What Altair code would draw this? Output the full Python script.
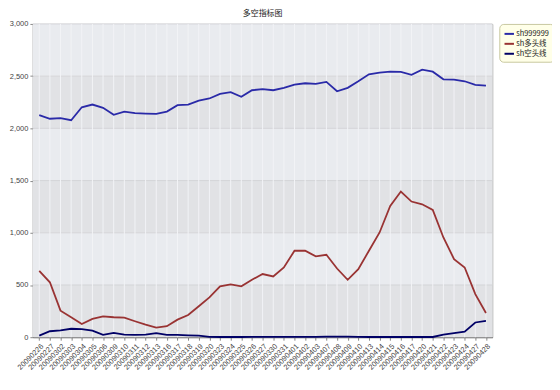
import altair as alt
import pandas as pd

dates = ["20090226", "20090227", "20090302", "20090303", "20090304", "20090305", "20090306",
         "20090309", "20090310", "20090311", "20090312", "20090313",
         "20090316", "20090317", "20090318", "20090319", "20090320",
         "20090323", "20090324", "20090325", "20090326", "20090327",
         "20090330", "20090331", "20090401", "20090402", "20090403",
         "20090407", "20090408", "20090409", "20090410",
         "20090413", "20090414", "20090415", "20090416", "20090417",
         "20090420", "20090421", "20090422", "20090423", "20090424",
         "20090427", "20090428"]

sh999999 = [2126, 2092, 2097, 2078, 2202, 2228, 2197, 2130, 2161, 2145, 2142, 2139,
            2161, 2222, 2228, 2266, 2286, 2330, 2346, 2302, 2365, 2376,
            2365, 2388, 2419, 2432, 2426, 2445, 2355, 2388, 2451,
            2518, 2534, 2543, 2540, 2512, 2562, 2543, 2470, 2467, 2451, 2416, 2410]

sh_long = [636, 526, 254, 191, 127, 175, 200, 191, 187, 153, 121, 92,
           105, 168, 213, 296, 382, 487, 506, 487, 550, 605,
           582, 668, 828, 828, 774, 789, 658, 550, 652,
           828, 1003, 1257, 1395, 1299, 1273, 1219, 955, 748, 668, 413, 232]

sh_short = [15, 57, 66, 81, 78, 62, 22, 41, 25, 22, 25, 38,
            22, 22, 18, 15, 3, 2, 2, 2, 3, 4,
            3, 4, 4, 4, 3, 5, 5, 6, 4,
            2, 2, 2, 2, 2, 2, 2, 25, 38, 53, 141, 157]

series_names = ["sh999999", "sh多头线", "sh空头线"]
series_colors = ["#2a2aa8", "#993333", "#000066"]

band_lo = [0, 500, 1000, 1500, 2000, 2500]
band_hi = [500, 1000, 1500, 2000, 2500, 3000]
band_col = ["#e1e2e5", "#e9ebef", "#e1e2e5", "#e9ebef", "#e1e2e5", "#e9ebef"]

W, H = 462, 315
FONT = "Liberation Sans"
CJK = "Noto Sans CJK SC"

df = pd.DataFrame({"date": dates, series_names[0]: sh999999,
                   series_names[1]: sh_long, series_names[2]: sh_short})
long_df = df.melt(id_vars="date", var_name="series", value_name="value")
long_df["order"] = long_df["series"].map({n: i for i, n in enumerate(series_names)})

bands = pd.DataFrame({"lo": band_lo, "hi": band_hi, "col": band_col})
grid_df = pd.DataFrame({"date": dates})

yscale = alt.Scale(domain=[0, 3000], nice=False)
xscale = alt.Scale(type="point", padding=0.6)

y_axis = alt.Axis(title=None, values=[0, 500, 1000, 1500, 2000, 2500, 3000],
                  format=",d", labelFontSize=7.5, labelColor="#444444", labelFont=FONT,
                  grid=False, domainColor="#555555", tickColor="#888888", tickSize=3)
x_axis = alt.Axis(title=None, labelAngle=-45, labelFontSize=7.5, labelColor="#444444",
                  labelFont=FONT, grid=False,
                  domainColor="#666666", tickColor="#888888", tickSize=3,
                  labelPadding=2, labelAlign="right", labelBaseline="top")

band_layer = alt.Chart(bands).mark_rect().encode(
    x=alt.value(0), x2=alt.value(W),
    y=alt.Y("lo:Q", scale=yscale, axis=y_axis),
    y2="hi:Q",
    fill=alt.Fill("col:N", scale=None, legend=None),
)

hgrid = alt.Chart(bands).mark_rule(color="#d4d5d8", strokeWidth=1).encode(
    y=alt.Y("hi:Q", scale=yscale, axis=y_axis),
)

vgrid = alt.Chart(grid_df).mark_rule(color="#f2f3f6", strokeWidth=1).encode(
    x=alt.X("date:N", sort=dates, scale=xscale, axis=x_axis),
)

lines = alt.Chart(long_df).mark_line(strokeWidth=1.8).encode(
    x=alt.X("date:N", sort=dates, scale=xscale, axis=x_axis),
    y=alt.Y("value:Q", scale=yscale, axis=y_axis),
    color=alt.Color("series:N", sort=series_names,
                    scale=alt.Scale(domain=series_names, range=series_colors),
                    legend=alt.Legend(title=None, orient="none", legendX=469, legendY=0,
                                      symbolType="stroke", symbolStrokeWidth=2, symbolSize=90,
                                      labelFont=CJK, labelFontSize=7.5, labelColor="#222222",
                                      fillColor="#ffffe8", strokeColor="#c8c8a0", padding=4,
                                      cornerRadius=4, rowPadding=0, labelOffset=1,
                                      labelLimit=60)),
    order="order:Q",
)

chart = alt.layer(band_layer, hgrid, vgrid, lines).properties(
    width=W, height=H,
    title=alt.TitleParams("多空指标图", font=CJK, fontSize=8, fontWeight="normal",
                          color="#222222", anchor="middle", offset=2),
    autosize=alt.AutoSizeParams(type="none"),
    padding={"left": 25, "top": 15, "right": 60, "bottom": 40},
    background="white",
).configure_view(stroke="#b0b0b0", strokeWidth=1)

chart.save("out.html", embed_options={"renderer": "svg", "actions": False})
